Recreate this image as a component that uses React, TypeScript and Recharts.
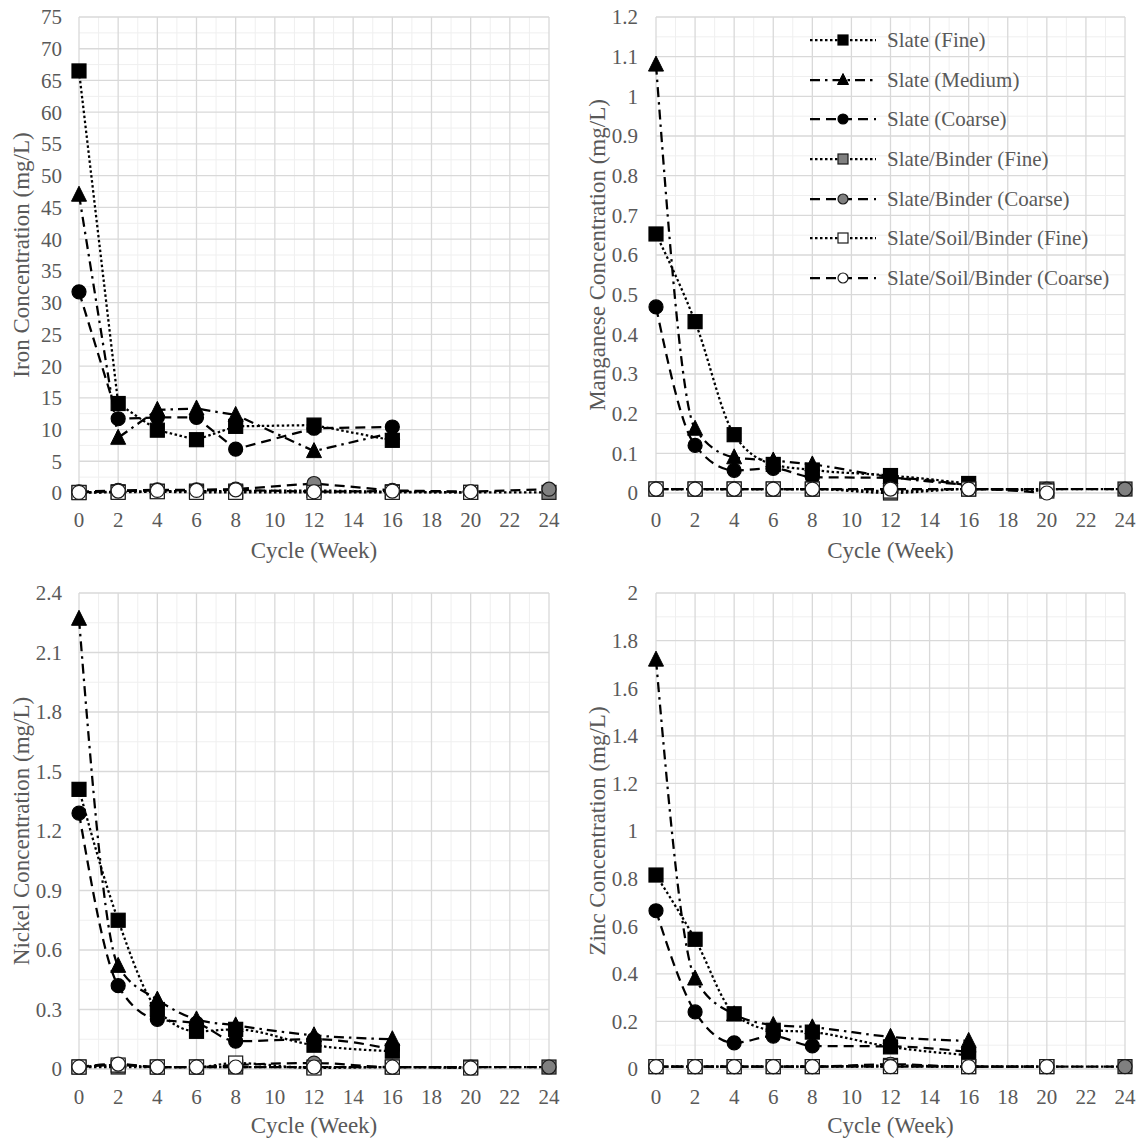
import { LineChart, Line, XAxis, YAxis, CartesianGrid, Legend } from "recharts";

const FONT = "'Liberation Serif', 'Times New Roman', serif";
const TEXT = "#595959";

// weeks sampled
const weeks = [0, 2, 4, 6, 8, 12, 16, 20, 24];
const xTicks = [0, 2, 4, 6, 8, 10, 12, 14, 16, 18, 20, 22, 24];

const seriesNames = [
  "Slate (Fine)",
  "Slate (Medium)",
  "Slate (Coarse)",
  "Slate/Binder (Fine)",
  "Slate/Binder (Coarse)",
  "Slate/Soil/Binder (Fine)",
  "Slate/Soil/Binder (Coarse)",
];

// Iron (mg/L)
const ironSlateFine = [66.5, 14.1, 9.9, 8.4, 10.5, 10.7, 8.3];
const ironSlateMedium = [47, 8.7, 13.1, 13.3, 12.3, 6.6, 9.5];
const ironSlateCoarse = [31.7, 11.7, 11.9, 11.9, 6.9, 10.2, 10.4];
const ironBinderFine = [0.1, 0.2, 0.3, 0.3, 0.3, 0.4, 0.2, 0.1, 0.1];
const ironBinderCoarse = [0.2, 0.4, 0.5, 0.5, 0.6, 1.5, 0.4, 0.2, 0.6];
const ironSoilFine = [0.05, 0.1, 0.2, 0.1, 0.1, 0.1, 0.1, 0.1];
const ironSoilCoarse = [0.1, 0.3, 0.4, 0.4, 0.5, 0.2, 0.3, 0.2];
const ironTicks = [0, 5, 10, 15, 20, 25, 30, 35, 40, 45, 50, 55, 60, 65, 70, 75];

// Manganese (mg/L)
const mnSlateFine = [0.653, 0.432, 0.147, 0.072, 0.058, 0.044, 0.024];
const mnSlateMedium = [1.08, 0.162, 0.09, 0.082, 0.072, 0.04, 0.02];
const mnSlateCoarse = [0.469, 0.12, 0.057, 0.062, 0.04, 0.038, 0.02];
const mnBinderFine = [0.01, 0.01, 0.01, 0.01, 0.01, 0.0, 0.01, 0.01, 0.01];
const mnBinderCoarse = [0.01, 0.01, 0.01, 0.01, 0.01, 0.01, 0.01, 0.01, 0.01];
const mnSoilFine = [0.01, 0.01, 0.01, 0.01, 0.01, 0.005, 0.01, 0.005];
const mnSoilCoarse = [0.01, 0.01, 0.01, 0.01, 0.01, 0.01, 0.01, 0.0];
const mnTicks = [0, 0.1, 0.2, 0.3, 0.4, 0.5, 0.6, 0.7, 0.8, 0.9, 1, 1.1, 1.2];

// Nickel (mg/L)
const niSlateFine = [1.41, 0.75, 0.3, 0.19, 0.2, 0.12, 0.09];
const niSlateMedium = [2.27, 0.52, 0.35, 0.25, 0.22, 0.17, 0.15];
const niSlateCoarse = [1.29, 0.42, 0.25, 0.23, 0.14, 0.15, 0.1];
const niBinderFine = [0.01, 0.01, 0.01, 0.01, 0.01, 0.01, 0.01, 0.01, 0.01];
const niBinderCoarse = [0.01, 0.02, 0.01, 0.01, 0.02, 0.03, 0.01, 0.01, 0.01];
const niSoilFine = [0.01, 0.02, 0.01, 0.01, 0.03, 0.005, 0.01, 0.005];
const niSoilCoarse = [0.01, 0.025, 0.01, 0.01, 0.01, 0.01, 0.01, 0.005];
const niTicks = [0, 0.3, 0.6, 0.9, 1.2, 1.5, 1.8, 2.1, 2.4];

// Zinc (mg/L)
const znSlateFine = [0.815, 0.545, 0.232, 0.163, 0.155, 0.093, 0.058];
const znSlateMedium = [1.72, 0.38, 0.23, 0.185, 0.175, 0.135, 0.118];
const znSlateCoarse = [0.665, 0.24, 0.11, 0.138, 0.097, 0.095, 0.072];
const znBinderFine = [0.01, 0.01, 0.01, 0.01, 0.01, 0.015, 0.01, 0.01, 0.01];
const znBinderCoarse = [0.01, 0.01, 0.01, 0.01, 0.01, 0.02, 0.01, 0.01, 0.01];
const znSoilFine = [0.01, 0.01, 0.01, 0.01, 0.01, 0.01, 0.01, 0.01];
const znSoilCoarse = [0.01, 0.01, 0.01, 0.01, 0.01, 0.01, 0.01, 0.01];
const znTicks = [0, 0.2, 0.4, 0.6, 0.8, 1, 1.2, 1.4, 1.6, 1.8, 2];

type Shape = "square" | "triangle" | "circle";
const styles: { shape: Shape; fill: string; dash: string }[] = [
  { shape: "square", fill: "#000", dash: "2.5 2.5" },
  { shape: "triangle", fill: "#000", dash: "10 5 2.5 5" },
  { shape: "circle", fill: "#000", dash: "10 6" },
  { shape: "square", fill: "#808080", dash: "2.5 2.5" },
  { shape: "circle", fill: "#808080", dash: "10 6" },
  { shape: "square", fill: "#fff", dash: "2.5 2.5" },
  { shape: "circle", fill: "#fff", dash: "10 6" },
];

function buildRows(series: number[][]) {
  return weeks.map((w, i) => {
    const row: Record<string, number | null> = { week: w };
    series.forEach((s, k) => {
      row["s" + k] = i < s.length ? s[i] : null;
    });
    return row;
  });
}

function minorOf(ticks: number[]) {
  return ticks.slice(1).map((t, i) => (t + ticks[i]) / 2);
}

function Marker({ cx, cy, shape, fill, size }: { cx: number; cy: number; shape: Shape; fill: string; size: number }) {
  const h = size / 2;
  const stroke = fill === "#000" ? "#000" : "#1a1a1a";
  if (shape === "square")
    return <rect x={cx - h} y={cy - h} width={size} height={size} fill={fill} stroke={stroke} strokeWidth={1.2} />;
  if (shape === "triangle")
    return (
      <polygon
        points={`${cx},${cy - h - 1.5} ${cx + h + 0.5},${cy + h - 0.5} ${cx - h - 0.5},${cy + h - 0.5}`}
        fill={fill}
        stroke={stroke}
        strokeWidth={1}
      />
    );
  return <circle cx={cx} cy={cy} r={h} fill={fill} stroke={stroke} strokeWidth={1.2} />;
}

function VTitle({ text, tx, ty }: any) {
  return (
    <text
      x={tx}
      y={ty}
      transform={`rotate(-90 ${tx} ${ty})`}
      textAnchor="middle"
      dominantBaseline="central"
      fill={TEXT}
      fontSize={23}
      fontFamily={FONT}
    >
      {text}
    </text>
  );
}

function HTitle({ text, tx, ty }: any) {
  return (
    <text x={tx} y={ty} textAnchor="middle" dominantBaseline="central" fill={TEXT} fontSize={23} fontFamily={FONT}>
      {text}
    </text>
  );
}

function LegendBox() {
  return (
    <div style={{ fontFamily: FONT, fontSize: 21, color: TEXT }}>
      {seriesNames.map((name, k) => (
        <div key={name} style={{ display: "flex", alignItems: "center", height: 39.7 }}>
          <svg width={66} height={20} style={{ display: "block" }}>
            <line x1={0} y1={10} x2={66} y2={10} stroke="#000" strokeWidth={2.25} strokeDasharray={styles[k].dash} />
            <Marker cx={33} cy={10} shape={styles[k].shape} fill={styles[k].fill} size={10} />
          </svg>
          <span style={{ marginLeft: 11, whiteSpace: "nowrap", lineHeight: "24px" }}>{name}</span>
        </div>
      ))}
    </div>
  );
}

type PanelProps = {
  left: number;
  top: number;
  width: number;
  height: number;
  plot: { l: number; r: number; t: number; b: number };
  series: number[][];
  ticks: number[];
  yTitle: string;
  yTitleX: number;
  xTitleY: number;
  xTickMargin: number;
  yTickMargin: number;
  curve: "linear" | "monotone";
  legend?: boolean;
};

const Y_W = 60;
const X_H = 66;

function Panel(p: PanelProps) {
  const data = buildRows(p.series);
  const margin = {
    top: p.plot.t - p.top,
    left: p.plot.l - p.left - Y_W,
    right: p.left + p.width - p.plot.r,
    bottom: p.top + p.height - p.plot.b - X_H,
  };
  const midX = (p.plot.l + p.plot.r) / 2 - p.left;
  const midY = (p.plot.t + p.plot.b) / 2 - p.top;
  const tickStyle = { fill: TEXT, fontSize: 21, fontFamily: FONT };
  const yMax = p.ticks[p.ticks.length - 1];
  return (
    <div style={{ position: "absolute", left: p.left, top: p.top }}>
      <LineChart width={p.width} height={p.height} data={data} margin={margin}>
        <CartesianGrid
          stroke="#efefef"
          strokeWidth={1}
          horizontalValues={minorOf(p.ticks)}
          verticalValues={minorOf(xTicks)}
        />
        <CartesianGrid stroke="#d9d9d9" strokeWidth={1.3} horizontalValues={p.ticks} verticalValues={xTicks} />
        <XAxis
          type="number"
          dataKey="week"
          domain={[0, 24]}
          ticks={xTicks}
          interval={0}
          height={X_H}
          axisLine={false}
          tickLine={false}
          tickSize={0}
          tickMargin={p.xTickMargin}
          tick={tickStyle}
          label={<HTitle text="Cycle (Week)" tx={midX} ty={p.xTitleY - p.top} />}
        />
        <YAxis
          type="number"
          domain={[0, yMax]}
          ticks={p.ticks}
          interval={0}
          width={Y_W}
          axisLine={false}
          tickLine={false}
          tickSize={0}
          tickMargin={p.yTickMargin}
          tick={tickStyle}
          label={<VTitle text={p.yTitle} tx={p.yTitleX - p.left} ty={midY} />}
        />
        {p.series.map((_, k) => (
          <Line
            key={k}
            dataKey={"s" + k}
            name={seriesNames[k]}
            type={p.curve}
            stroke="#000"
            strokeWidth={2.25}
            strokeDasharray={styles[k].dash}
            isAnimationActive={false}
            activeDot={false}
            dot={(d: any) =>
              d.cx == null || d.cy == null || d.value == null ? (
                <g key={d.key ?? `e${k}-${d.index}`} />
              ) : (
                <g key={d.key ?? `d${k}-${d.index}`}>
                  <Marker cx={d.cx} cy={d.cy} shape={styles[k].shape} fill={styles[k].fill} size={14} />
                </g>
              )
            }
          />
        ))}
        {p.legend && (
          <Legend
            layout="vertical"
            align="center"
            verticalAlign="middle"
            wrapperStyle={{ left: 810 - p.left, top: 20 - p.top, width: 320 }}
            content={() => <LegendBox />}
          />
        )}
      </LineChart>
    </div>
  );
}

export default function App() {
  return (
    <div
      style={{
        position: "absolute",
        left: 0,
        top: 0,
        width: 1147,
        height: 1141,
        background: "#fff",
        fontFamily: FONT,
        overflow: "hidden",
      }}
    >
      <Panel
        left={0}
        top={0}
        width={573}
        height={576}
        plot={{ l: 79, r: 549, t: 17, b: 493 }}
        series={[ironSlateFine, ironSlateMedium, ironSlateCoarse, ironBinderFine, ironBinderCoarse, ironSoilFine, ironSoilCoarse]}
        ticks={ironTicks}
        yTitle="Iron Concentration (mg/L)"
        yTitleX={21}
        xTitleY={550}
        xTickMargin={19}
        yTickMargin={17}
        curve="linear"
      />
      <Panel
        left={576}
        top={0}
        width={571}
        height={576}
        plot={{ l: 656, r: 1125, t: 17, b: 493 }}
        series={[mnSlateFine, mnSlateMedium, mnSlateCoarse, mnBinderFine, mnBinderCoarse, mnSoilFine, mnSoilCoarse]}
        ticks={mnTicks}
        yTitle="Manganese Concentration (mg/L)"
        yTitleX={597}
        xTitleY={550}
        xTickMargin={19}
        yTickMargin={18}
        curve="monotone"
        legend
      />
      <Panel
        left={0}
        top={576}
        width={573}
        height={565}
        plot={{ l: 79, r: 549, t: 593, b: 1069 }}
        series={[niSlateFine, niSlateMedium, niSlateCoarse, niBinderFine, niBinderCoarse, niSoilFine, niSoilCoarse]}
        ticks={niTicks}
        yTitle="Nickel Concentration (mg/L)"
        yTitleX={21}
        xTitleY={1125}
        xTickMargin={20}
        yTickMargin={17}
        curve="monotone"
      />
      <Panel
        left={576}
        top={576}
        width={571}
        height={565}
        plot={{ l: 656, r: 1125, t: 593, b: 1069 }}
        series={[znSlateFine, znSlateMedium, znSlateCoarse, znBinderFine, znBinderCoarse, znSoilFine, znSoilCoarse]}
        ticks={znTicks}
        yTitle="Zinc Concentration (mg/L)"
        yTitleX={597}
        xTitleY={1125}
        xTickMargin={20}
        yTickMargin={18}
        curve="monotone"
      />
    </div>
  );
}
